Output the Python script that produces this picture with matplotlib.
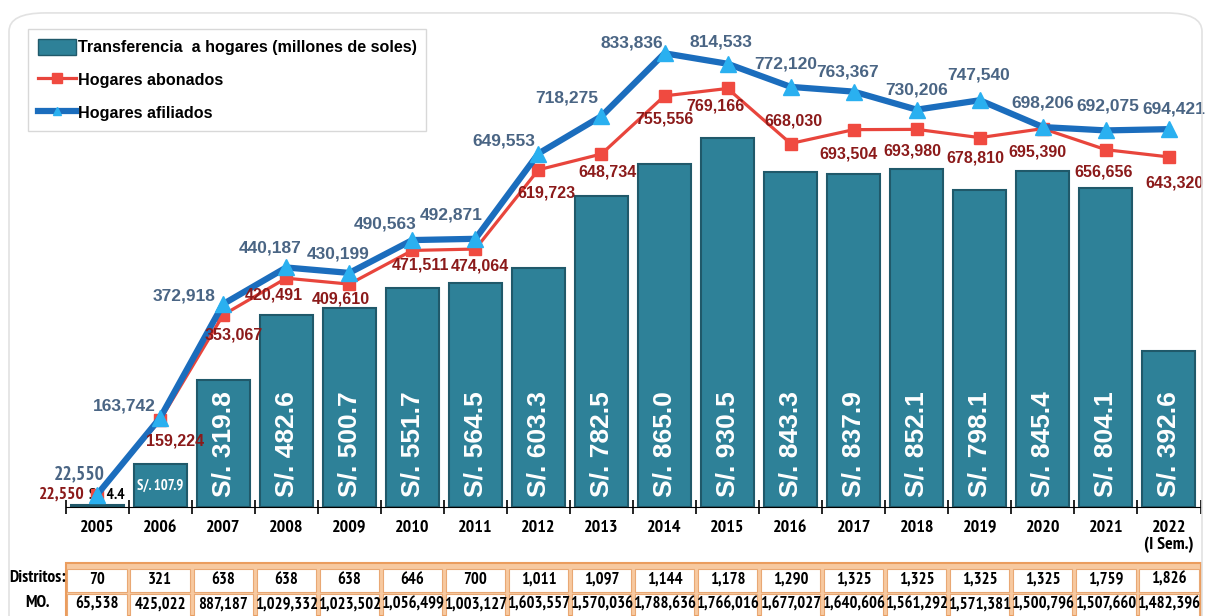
import matplotlib
matplotlib.use("Agg")
import matplotlib.pyplot as plt
from matplotlib import font_manager as fm
from matplotlib.patches import Rectangle, FancyBboxPatch, Patch
from matplotlib.lines import Line2D

# Datos
anios = ['2005', '2006', '2007', '2008', '2009', '2010', '2011', '2012', '2013',
         '2014', '2015', '2016', '2017', '2018', '2019', '2020', '2021', '2022\n(I Sem.)']
transferencia = [4.4, 107.9, 319.8, 482.6, 500.7, 551.7, 564.5, 603.3, 782.5,
                 865.0, 930.5, 843.3, 837.9, 852.1, 798.1, 845.4, 804.1, 392.6]
afiliados = [22550, 163742, 372918, 440187, 430199, 490563, 492871, 649553, 718275,
             833836, 814533, 772120, 763367, 730206, 747540, 698206, 692075, 694421]
abonados = [22550, 159224, 353067, 420491, 409610, 471511, 474064, 619723, 648734,
            755556, 769166, 668030, 693504, 693980, 678810, 695390, 656656, 643320]
distritos = [70, 321, 638, 638, 638, 646, 700, 1011, 1097, 1144, 1178, 1290,
             1325, 1325, 1325, 1325, 1759, 1826]
mo = [65538, 425022, 887187, 1029332, 1023502, 1056499, 1003127, 1603557, 1570036,
      1788636, 1766016, 1677027, 1640606, 1561292, 1571381, 1500796, 1507660, 1482396]

# desplazamiento de etiquetas (pixeles)
off_afil = [(-18, 20), (-36, 12), (-39, 8), (-16, 19), (-11, 19), (-27, 16), (-24, 24), (-35, 13), (-35, 18),
            (-33, 10), (-7, 22), (-5, 23), (-6, 20), (0, 20), (-1, 25), (0, 24), (2, 24), (5, 20)]
off_abon = [(-35, 0), (15, -21), (11, -20), (-12, -17), (-8, -15), (8, -15), (5, -17), (8, -23), (6, -18),
            (0, -23), (-12, -18), (3, 23), (-5, -24), (-4, -22), (-4, -20), (-5, -23), (-2, -22), (6, -26)]

BAR = '#2e8198'
AZUL = '#1b6dbd'
ROJO = '#e8453c'
TXT_AZUL = '#4a6584'
TXT_ROJO = '#8b1a1a'


def buscar_fuente(archivo, respaldo):
    for f in fm.fontManager.ttflist:
        if f.fname.endswith('/' + archivo):
            return fm.FontProperties(fname=f.fname)
    return fm.FontProperties(family=respaldo, weight='bold')


SANS = buscar_fuente('LiberationSans-Bold.ttf', 'DejaVu Sans')
NARROW = buscar_fuente('PT_Sans-Narrow-Web-Bold.ttf', 'DejaVu Sans')


def fp(base, size):
    p = base.copy()
    p.set_size(size)
    return p


fig = plt.figure(figsize=(12.06, 6.16), dpi=100)
fig.patch.set_facecolor('white')

# marco redondeado exterior
marco = FancyBboxPatch((9 / 1206, -0.05), 1193 / 1206, 1.029, transform=fig.transFigure,
                       boxstyle='round,pad=0,rounding_size=0.03', fill=False,
                       edgecolor='#e2e2e2', linewidth=1.2)
fig.patches.append(marco)

x = list(range(len(anios)))
ax = fig.add_axes([65.5 / 1206, 109 / 616, 1135 / 1206, 487 / 616])
ax.bar(x, transferencia, width=0.84, color=BAR, edgecolor='#20596a', linewidth=1.5, zorder=2)
ax.set_xlim(-0.5, len(anios) - 0.5)
ax.set_ylim(0, 1227)
for s in ['top', 'right', 'left']:
    ax.spines[s].set_visible(False)
ax.spines['bottom'].set_color('black')
ax.set_yticks([])
ax.set_xticks(x)
ax.set_xticklabels(anios, fontproperties=fp(NARROW, 13), linespacing=1.1)
ax.tick_params(axis='x', length=0, pad=9)
ax.set_xticks([i - 0.5 for i in range(len(anios) + 1)], minor=True)
ax.tick_params(axis='x', which='minor', length=10, direction='inout', width=1.2)

# etiquetas de barras
for i, v in enumerate(transferencia):
    if i == 0:
        ax.text(i + 0.16, v + 8, 'S/. 4.4', ha='center', va='bottom',
                fontproperties=fp(NARROW, 11), color='black', zorder=5)
    elif i == 1:
        ax.text(i, v / 2, 'S/. 107.9', ha='center', va='center',
                fontproperties=fp(NARROW, 10.5), color='white', zorder=5)
    else:
        ax.text(i, 25, 'S/. %.1f' % v, ha='center', va='bottom', rotation=90,
                fontproperties=fp(SANS, 19), color='white', zorder=5)

ax2 = ax.twinx()
ax2.set_ylim(0, 895000)
ax2.axis('off')
ax2.plot(x, afiliados, color=AZUL, linewidth=4.5, marker='^', markersize=11,
         markerfacecolor='#2ab0f0', markeredgecolor='#2ab0f0', zorder=4)
ax2.plot(x, abonados, color=ROJO, linewidth=2.3, marker='s', markersize=8,
         markerfacecolor='#f04a40', markeredgecolor='#f04a40', zorder=3)

for i, v in enumerate(afiliados):
    f = fp(NARROW, 14) if i == 0 else fp(SANS, 12.5)
    ax2.annotate('{:,}'.format(v), (i, v), xytext=off_afil[i], textcoords='offset pixels',
                 ha='center', va='center', fontproperties=f, color=TXT_AZUL, zorder=6)
for i, v in enumerate(abonados):
    f = fp(NARROW, 12.5) if i == 0 else fp(SANS, 11.5)
    ax2.annotate('{:,}'.format(v), (i, v), xytext=off_abon[i], textcoords='offset pixels',
                 ha='center', va='center', fontproperties=f, color=TXT_ROJO, zorder=6)

# leyenda
handles = [Patch(facecolor=BAR, edgecolor='#20596a'),
           Line2D([], [], color=ROJO, linewidth=2.3, marker='s', markersize=7,
                  markerfacecolor='#f04a40', markeredgecolor='#f04a40'),
           Line2D([], [], color=AZUL, linewidth=4.5, marker='^', markersize=6,
                  markerfacecolor='#2ab0f0', markeredgecolor='#2ab0f0')]
labels = ['Transferencia  a hogares (millones de soles)', 'Hogares abonados', 'Hogares afiliados']
leg = fig.legend(handles, labels, loc='upper left', bbox_to_anchor=(28 / 1206, 1 - 29 / 616),
                 prop=fp(SANS, 11.6), frameon=True, fancybox=False, edgecolor='#cfcfcf',
                 handlelength=2.4, handleheight=1.2, handletextpad=0.1, labelspacing=1.0,
                 borderpad=0.6, borderaxespad=0)
leg.get_frame().set_linewidth(1.0)

# tabla inferior
tab = fig.add_axes([65.5 / 1206, 0, 1135 / 1206, 53 / 616])
tab.set_xlim(-0.5, len(anios) - 0.5)
tab.set_ylim(0, 53)
tab.axis('off')
tab.add_patch(Rectangle((-0.5, 0), len(anios), 53, facecolor='#f7c9a0', edgecolor='#eb9d5e',
                        linewidth=1.5, clip_on=False))
for i in x:
    tab.add_patch(Rectangle((i - 0.47, 24.5), 0.94, 22.5, facecolor='white',
                            edgecolor='#e9a874', linewidth=0.8))
    tab.add_patch(Rectangle((i - 0.47, -1), 0.94, 23, facecolor='white',
                            edgecolor='#e9a874', linewidth=0.8))
    tab.text(i, 36, '{:,}'.format(distritos[i]), ha='center', va='center',
             fontproperties=fp(NARROW, 12))
    tab.text(i, 11, '{:,}'.format(mo[i]), ha='center', va='center',
             fontproperties=fp(NARROW, 12))
fig.text(66 / 1206, 38 / 616, 'Distritos:', ha='right', va='center', fontproperties=fp(NARROW, 12.5))
fig.text(37 / 1206, 13 / 616, 'MO.', ha='center', va='center', fontproperties=fp(NARROW, 12.5))

fig.savefig('out.png', dpi=100)
